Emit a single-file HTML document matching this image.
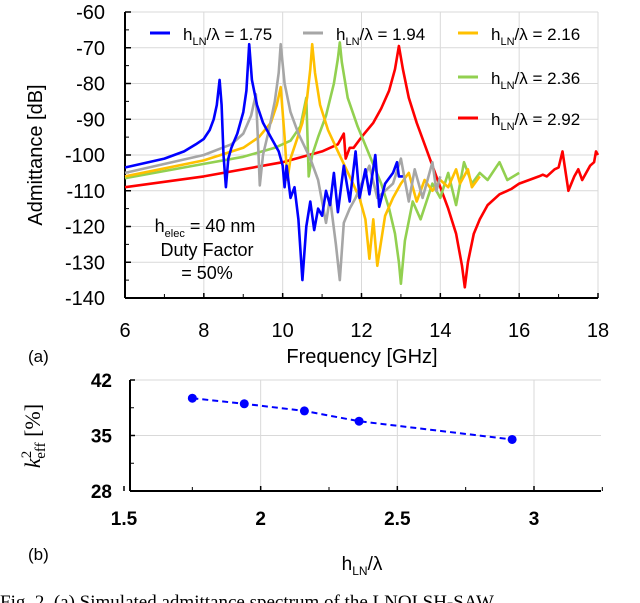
<!DOCTYPE html>
<html><head><meta charset="utf-8"><style>
html,body{margin:0;padding:0;background:#fff;width:640px;height:603px;overflow:hidden}
svg{display:block;font-family:"Liberation Sans",Arial,sans-serif}
</style></head><body>
<svg id="c" width="640" height="603" viewBox="0 0 640 603"></svg>
<script>
const NS="http://www.w3.org/2000/svg";
const svg=document.getElementById('c');
// ---- data: top chart ----
const seriesNames=["h_LN/λ = 1.75","h_LN/λ = 1.94","h_LN/λ = 2.16","h_LN/λ = 2.36","h_LN/λ = 2.92"];
const seriesColors=["#0000ff","#a6a6a6","#ffc000","#92d050","#ff0000"];
const blueF=[6,7,7.5,7.8,8.0,8.15,8.25,8.33,8.4,8.45,8.5,8.56,8.62,8.7,8.85,9.0,9.08,9.15,9.22,9.35,9.5,9.7,9.9,10.0,10.05,10.1,10.2,10.3,10.4,10.5,10.6,10.7,10.8,10.9,11.0,11.1,11.2,11.3,11.4,11.55,11.7,11.85,11.95,12.1,12.2,12.35,12.45,12.6,12.8,12.9,12.95,13.05];
const blueY=[-103.5,-101,-99,-97,-95.5,-93,-90,-86,-79,-86,-100,-109,-101,-98,-94,-88,-82,-69,-79,-86,-91,-95,-99,-103,-109,-103,-112,-109,-118,-135,-120,-113,-121,-115,-117,-110,-114,-105,-116,-103,-113,-99,-112,-104,-111,-100,-114.5,-108,-105,-102,-106,-106];
const grayF=[6,8,8.7,9.0,9.2,9.28,9.32,9.37,9.42,9.5,9.65,9.8,9.9,9.95,10.05,10.2,10.4,10.7,10.9,11.1,11.2,11.35,11.45,11.55,11.7,11.85,12.0,12.2,12.4,12.6,12.8,13.0,13.2,13.35,13.55,13.8,13.9,14.0];
const grayY=[-105,-100,-97,-94,-89,-85,-83,-95,-108.5,-100,-93,-85,-77,-69,-80,-88,-94,-101,-107,-119,-112,-125,-135,-119,-115,-112,-108,-103,-112,-110,-108,-101,-113,-104,-112,-102,-110,-106];
const orangeF=[6,8,9,9.4,9.7,9.85,9.95,10.05,10.12,10.2,10.35,10.5,10.62,10.7,10.75,10.82,10.95,11.15,11.4,11.7,11.95,12.1,12.2,12.3,12.4,12.6,12.8,13.0,13.2,13.4,13.6,13.8,14.0,14.2,14.4,14.5,14.7,14.8,15.0];
const orangeY=[-106,-101.5,-98,-95,-91,-86,-81,-95,-107,-101,-96,-91,-84,-76,-69,-77,-86,-93,-99,-106,-112,-118,-129,-118,-131,-117,-112,-108,-105,-113,-107,-110,-107,-109,-104,-108,-104,-109,-106];
const greenF=[6,8,9,9.8,10.2,10.45,10.6,10.63,10.66,10.75,10.9,11.1,11.3,11.4,11.45,11.5,11.65,11.9,12.2,12.5,12.7,12.85,12.95,13.0,13.1,13.3,13.5,13.8,14.0,14.2,14.4,14.6,14.8,15.0,15.2,15.5,15.7,16.0];
const greenY=[-106.5,-102.5,-100.5,-98,-96,-92,-84,-95,-106,-100,-95,-89,-80,-73,-68.5,-74,-84,-92,-100,-108,-115,-122,-130,-136,-124,-113,-118,-108,-112,-105,-114,-102,-108,-105,-107,-102,-107,-105];
const redF=[6,8,10,11.0,11.4,11.55,11.6,11.7,11.8,12.0,12.3,12.5,12.7,12.85,12.95,13.05,13.2,13.4,13.6,13.8,14.0,14.2,14.4,14.55,14.62,14.7,14.85,15.0,15.2,15.5,15.8,16.0,16.5,16.6,16.7,16.9,17.0,17.1,17.25,17.4,17.5,17.6,17.8,17.9,17.95,18.0];
const redY=[-109,-106,-102,-99,-97,-94,-101,-98,-98,-95,-91,-87,-82,-76,-69.5,-76,-84,-91,-97,-103,-109,-115,-122,-131,-137,-130,-122,-118,-114,-111,-109.5,-108,-106,-105.5,-106,-104,-103.5,-99,-110,-106,-104,-107,-103,-102,-99,-100];
const xTicksTop=[6,8,10,12,14,16,18];
const yTicksTop=[-60,-70,-80,-90,-100,-110,-120,-130,-140];
// ---- data: bottom chart ----
const ratio=[1.75,1.94,2.16,2.36,2.92];
const k2=[39.7,39.0,38.1,36.8,34.5];
const xTicksBot=[1.5,2,2.5,3];
const yTicksBot=[28,35,42];

function el(t,a,p){const e=document.createElementNS(NS,t);for(const k in a)e.setAttribute(k,a[k]);(p||svg).appendChild(e);return e;}
function txt(x,y,s,a,p){const e=el('text',Object.assign({x:x,y:y},a),p);e.textContent=s;return e;}
function ts(parent,s,a){const e=el('tspan',a||{},parent);e.textContent=s;return e;}

const L=125,R=598,T=12,B=298;
const xs=f=>L+(f-6)/12*(R-L);
const ys=v=>T+(-60-v)/80*(B-T);
const topG=el('g',{});


xTicksTop.forEach(f=>{if(f>6){const g=el('line',{x1:xs(f),x2:xs(f),y1:T,y2:B,stroke:'#d9d9d9','stroke-width':1},topG);}
 const t=txt(xs(f),337,String(f),{'font-size':20,'text-anchor':'middle',fill:'#000'},topG);
 el('line',{x1:xs(f),x2:xs(f),y1:B,y2:B-5,stroke:'#000','stroke-width':1.5},topG);});
for(let f=7;f<18;f+=2)el('line',{x1:xs(f),x2:xs(f),y1:B,y2:B-4,stroke:'#000','stroke-width':1},topG);
yTicksTop.forEach(v=>{if(v>-140){const g=el('line',{x1:L,x2:R,y1:ys(v),y2:ys(v),stroke:'#d9d9d9','stroke-width':1},topG);}
 const t=txt(105,ys(v)+7,String(v),{'font-size':20,'text-anchor':'end',fill:'#000'},topG);
 el('line',{x1:L,x2:L+6,y1:ys(v),y2:ys(v),stroke:'#000','stroke-width':1.5},topG);});
for(let v=-65;v>-140;v-=10)el('line',{x1:L,x2:L+4,y1:ys(v),y2:ys(v),stroke:'#000','stroke-width':1},topG);
el('line',{x1:L,x2:L,y1:T,y2:B,stroke:'#000','stroke-width':2},topG);
el('line',{x1:L,x2:R,y1:B,y2:B,stroke:'#000','stroke-width':2},topG);
const allF=[blueF,grayF,orangeF,greenF,redF],allY=[blueY,grayY,orangeY,greenY,redY];
[4,3,2,1,0].forEach(i=>{const d=allF[i].map((f,j)=>(j?'L':'M')+xs(f).toFixed(1)+','+ys(allY[i][j]).toFixed(1)).join(' ');
 const p=el('path',{d:d,fill:'none',stroke:seriesColors[i],'stroke-width':2.6,'stroke-linejoin':'round'},topG);
 
 });
const legPos=[[150,33],[303,33],[458,33],[458,77],[458,118]];
seriesNames.forEach((n,i)=>{const lx=legPos[i][0],ly=legPos[i][1];
 const g=el('g',{},topG);
 
 
 el('line',{x1:lx,x2:lx+20,y1:ly,y2:ly,stroke:seriesColors[i],'stroke-width':3},g);
 const t=el('text',{x:lx+33,y:ly+7,'font-size':17,fill:'#000'},g);
 const a=n.split('_LN');
 ts(t,'h');ts(t,'LN',{'font-size':11,dy:5});ts(t,a[1],{dy:-5});});
const an=el('g',{'font-size':18,'text-anchor':'middle',fill:'#000'},topG);


const a1=el('text',{x:205,y:232},an);ts(a1,'h');ts(a1,'elec',{'font-size':11,dy:5});ts(a1,' = 40 nm',{dy:-5});
txt(207,256,'Duty Factor',{},an);txt(207,279,'= 50%',{},an);
const yt=txt(0,0,'Admittance [dB]',{'font-size':20,'text-anchor':'middle',transform:'translate(42,155) rotate(-90)'},topG);


const xt=txt(362,363,'Frequency [GHz]',{'font-size':20,'text-anchor':'middle'},topG);


const la=txt(28,362,'(a)',{'font-size':17},topG);



const L2=130,R2=601,T2=380,B2=491;
const bx=v=>124+(v-1.5)/1.5*(534-124);
const by=v=>T2+(42-v)/14*(B2-T2);
const bot=el('g',{});


xTicksBot.forEach(v=>{if(v>1.5){const g=el('line',{x1:bx(v),x2:bx(v),y1:T2,y2:B2,stroke:'#d9d9d9'},bot);}
 const t=txt(bx(v),525,String(v),{'font-size':19,'font-weight':'bold','text-anchor':'middle'},bot);
 el('line',{x1:bx(v),x2:bx(v),y1:B2,y2:B2-5,stroke:'#000','stroke-width':1.5},bot);});
for(let v=1.75;v<3.3;v+=0.5)el('line',{x1:bx(v),x2:bx(v),y1:B2,y2:B2-4,stroke:'#000'},bot);
yTicksBot.forEach(v=>{if(v>28){const g=el('line',{x1:L2,x2:R2,y1:by(v),y2:by(v),stroke:'#d9d9d9'},bot);}
 const t=txt(112,by(v)+7,String(v),{'font-size':19,'font-weight':'bold','text-anchor':'end'},bot);
 el('line',{x1:L2,x2:L2+5,y1:by(v),y2:by(v),stroke:'#000','stroke-width':1.5},bot);});
[31.5,38.5].forEach(v=>el('line',{x1:L2,x2:L2+4,y1:by(v),y2:by(v),stroke:'#000'},bot));
el('line',{x1:L2,x2:L2,y1:T2,y2:B2,stroke:'#000','stroke-width':2},bot);
el('line',{x1:L2,x2:R2,y1:B2,y2:B2,stroke:'#000','stroke-width':2},bot);
const ln=el('path',{d:ratio.map((r,i)=>(i?'L':'M')+bx(r)+','+by(k2[i])).join(' '),fill:'none',stroke:'#0000ff','stroke-width':2,'stroke-dasharray':'6,4'},bot);


ratio.forEach((r,i)=>{const c=el('circle',{cx:bx(r),cy:by(k2[i]),r:4.5,fill:'#0000ff'},bot);
 
 });
const yt2=el('text',{'font-size':22,'text-anchor':'middle',transform:'translate(40,436) rotate(-90)','font-family':'Liberation Serif,serif'},bot);
ts(yt2,'k',{'font-style':'italic'});ts(yt2,'2',{'font-size':15,dy:-9});ts(yt2,'eff',{'font-size':15,dx:-8,dy:14});ts(yt2,' [%]',{dy:-5});


const xt2=el('text',{x:362,y:570,'font-size':19,'text-anchor':'middle'},bot);
ts(xt2,'h');ts(xt2,'LN',{'font-size':12,dy:5});ts(xt2,'/λ',{dy:-5});


const lb=txt(28,560,'(b)',{'font-size':17},bot);


const cap=txt(0,608,'Fig. 2.  (a) Simulated admittance spectrum of the LNOI SH-SAW',{'font-size':19,'font-family':'Liberation Serif,serif'});


</script>
</body></html>
